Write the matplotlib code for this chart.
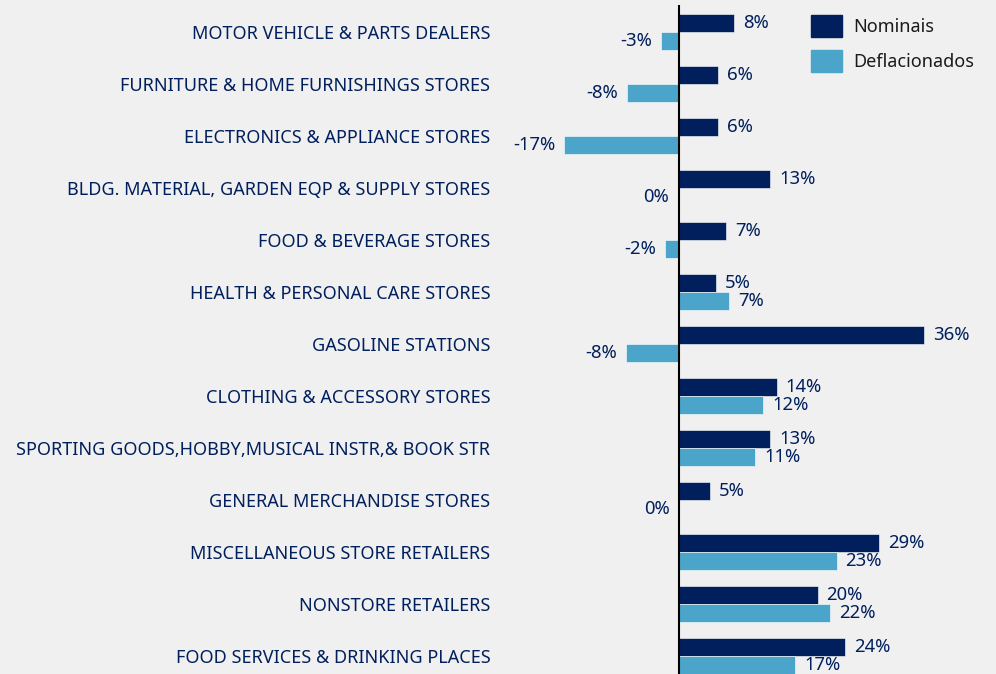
import numpy as np
import matplotlib.pyplot as plt
from matplotlib.patches import Patch

categories = [
    "MOTOR VEHICLE & PARTS DEALERS",
    "FURNITURE & HOME FURNISHINGS STORES",
    "ELECTRONICS & APPLIANCE STORES",
    "BLDG. MATERIAL, GARDEN EQP & SUPPLY STORES",
    "FOOD & BEVERAGE STORES",
    "HEALTH & PERSONAL CARE STORES",
    "GASOLINE STATIONS",
    "CLOTHING & ACCESSORY STORES",
    "SPORTING GOODS,HOBBY,MUSICAL INSTR,& BOOK STR",
    "GENERAL MERCHANDISE STORES",
    "MISCELLANEOUS STORE RETAILERS",
    "NONSTORE RETAILERS",
    "FOOD SERVICES & DRINKING PLACES",
]
# variacao (%)
nominais = [8.1, 5.7, 5.7, 13.4, 6.9, 5.4, 36.0, 14.4, 13.4, 4.6, 29.4, 20.4, 24.4]
deflacionados = [-2.6, -7.6, -16.9, -0.2, -2.1, 7.4, -7.8, 12.4, 11.2, -0.1, 23.2, 22.2, 17.1]

NAVY = "#001f5c"
LIGHT = "#4ba4c9"
BG = "#f0f0f0"

plt.rcParams['font.family'] = ['Noto Sans', 'DejaVu Sans']

fig = plt.figure(figsize=(9.96, 6.74), dpi=100, facecolor=BG)
W, H = 996, 674
ax = fig.add_axes([500 / W, 0, 496 / W, 669 / H])
ax.set_facecolor(BG)

y = np.arange(len(categories))
h = 0.35
ax.barh(y - h / 2, nominais, height=h, color=NAVY, edgecolor="white", linewidth=0.4)
ax.barh(y + h / 2, deflacionados, height=h, color=LIGHT, edgecolor="white", linewidth=0.4)

def put_labels(vals, offs):
    for yi, v in zip(y + offs, vals):
        txt = f"{round(v)}%"
        if v >= 0 and round(v) != 0:
            ax.text(v + 1.3, yi, txt, va="center", ha="left", fontsize=13.3, color=NAVY)
        else:
            ax.text(v - 1.3, yi, txt, va="center", ha="right", fontsize=13.3, color=NAVY)

put_labels(nominais, -h / 2)
put_labels(deflacionados, h / 2)

ax.axvline(0, color="black", linewidth=1.5)
ax.set_xlim((500 - 679) / 6.8, (996 - 679) / 6.8)
ax.set_ylim(12 + 0.346, -0.519)
ax.set_yticks(y)
ax.set_yticklabels(categories, fontsize=13, color=NAVY)
ax.tick_params(axis="y", length=0, pad=7)
ax.set_xticks([])
for s in ax.spines.values():
    s.set_visible(False)

handles = [Patch(color=NAVY, label="Nominais"), Patch(color=LIGHT, label="Deflacionados")]
fig.legend(handles=handles, loc="upper left", bbox_to_anchor=(795 / W, 1 + 1 / H), frameon=False,
           fontsize=13, handlelength=1.72, handleheight=1.45, labelspacing=0.75,
           handletextpad=0.6, borderpad=0.4, labelcolor="#1a1a1a")

fig.savefig("out.png", dpi=100, facecolor=BG)
